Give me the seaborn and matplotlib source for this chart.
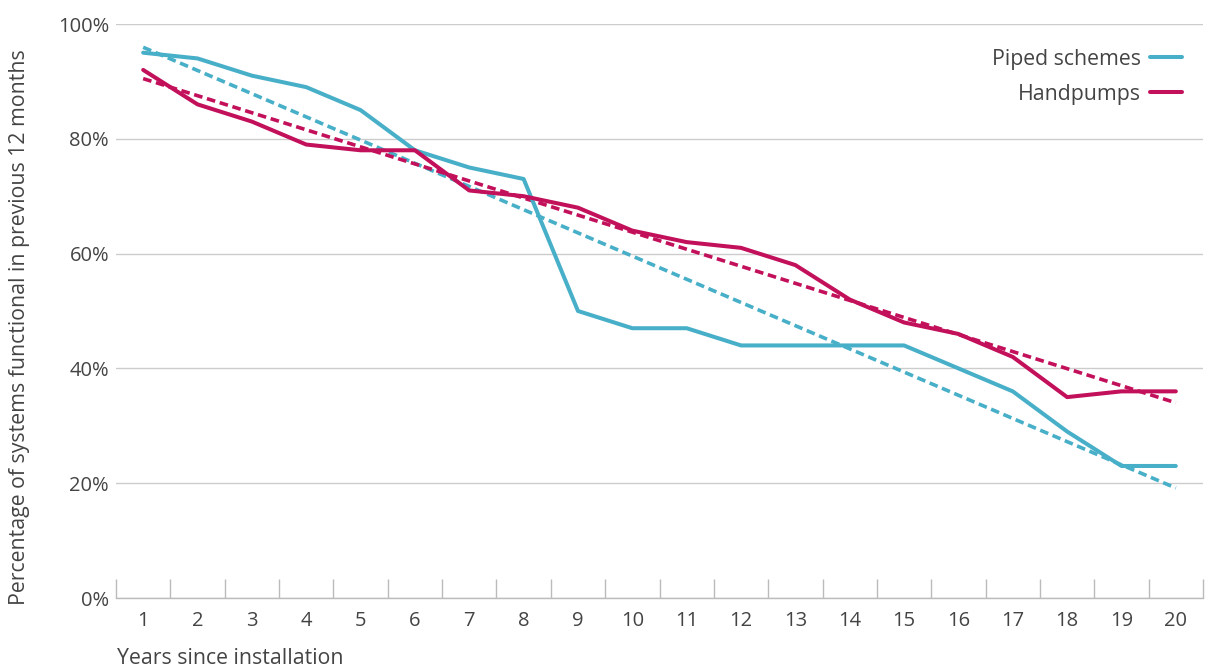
import numpy as np
import pandas as pd
import seaborn as sns
import matplotlib
matplotlib.use("Agg")
import matplotlib.pyplot as plt
from matplotlib.lines import Line2D

years = list(range(1, 21))
piped = [95, 94, 91, 89, 85, 78, 75, 73, 50, 47, 47, 44, 44, 44, 44, 40, 36, 29, 23, 23]
handpumps = [92, 86, 83, 79, 78, 78, 71, 70, 68, 64, 62, 61, 58, 52, 48, 46, 42, 35, 36, 36]
series_names = ["Piped schemes", "Handpumps"]
y_ticks = [0, 20, 40, 60, 80, 100]
y_tick_labels = ["0%", "20%", "40%", "60%", "80%", "100%"]

c_piped = "#48AFC8"
c_hand = "#C2105B"
text_c = "#444444"

sns.set_theme(style="white")
plt.rcParams["font.family"] = ["Open Sans", "DejaVu Sans"]

df = pd.DataFrame({
    "year": years * 2,
    "value": piped + handpumps,
    "series": [series_names[0]] * 20 + [series_names[1]] * 20,
})

fig = plt.figure(figsize=(12.06, 6.68), dpi=100)
ax = fig.add_axes([116 / 1206, 1 - 598 / 668, (1203 - 116) / 1206, (598 - 24) / 668])

for name, col in zip(series_names, [c_piped, c_hand]):
    sub = df[df["series"] == name]
    sns.regplot(data=sub, x="year", y="value", ax=ax, scatter=False, ci=None,
                truncate=True,
                line_kws=dict(color=col, lw=2.6, ls=(0, (2.4, 1.3)), zorder=2))

sns.lineplot(data=df, x="year", y="value", hue="series", palette=[c_piped, c_hand],
             ax=ax, lw=2.9, legend=False, zorder=3)

ax.set_xlim(0.5, 20.5)
ax.set_ylim(0, 100)
ax.set_yticks(y_ticks)
ax.set_yticklabels(y_tick_labels)
ax.set_xticks(years)
ax.set_xticklabels([str(y) for y in years])
ax.set_xticks(np.arange(0.5, 21, 1), minor=True)
ax.tick_params(axis="x", which="major", bottom=True, length=0, pad=9, labelsize=14.5,
               labelcolor=text_c)
ax.tick_params(axis="x", which="minor", bottom=True, direction="in", length=14, width=1,
               color="#bbbbbb")
ax.tick_params(axis="y", length=0, pad=5, labelsize=14.5, labelcolor=text_c)
ax.grid(axis="y", color="#cccccc", lw=1)
ax.set_axisbelow(True)
for s in ["top", "right", "left"]:
    ax.spines[s].set_visible(False)
ax.spines["bottom"].set_color("#bbbbbb")
ax.spines["bottom"].set_linewidth(1)

ax.set_xlabel("")
ax.set_ylabel("")
fig.text(117 / 1206, 1 - 659 / 668, "Years since installation", fontsize=15.3, color=text_c,
         ha="left", va="center")
fig.text(20 / 1206, 1 - 327 / 668, "Percentage of systems functional in previous 12 months",
         fontsize=15.3, color=text_c, rotation=90, ha="center", va="center")

handles = [Line2D([0], [0], color=c_piped, lw=2.9), Line2D([0], [0], color=c_hand, lw=2.9)]
leg = ax.legend(handles, series_names, loc="upper right", bbox_to_anchor=(0.998, 0.9906),
                frameon=False, markerfirst=False, fontsize=15.3, handlelength=1.5,
                handletextpad=0.42, labelspacing=0.66)
for t in leg.get_texts():
    t.set_color(text_c)

fig.savefig("out.png", dpi=100)
